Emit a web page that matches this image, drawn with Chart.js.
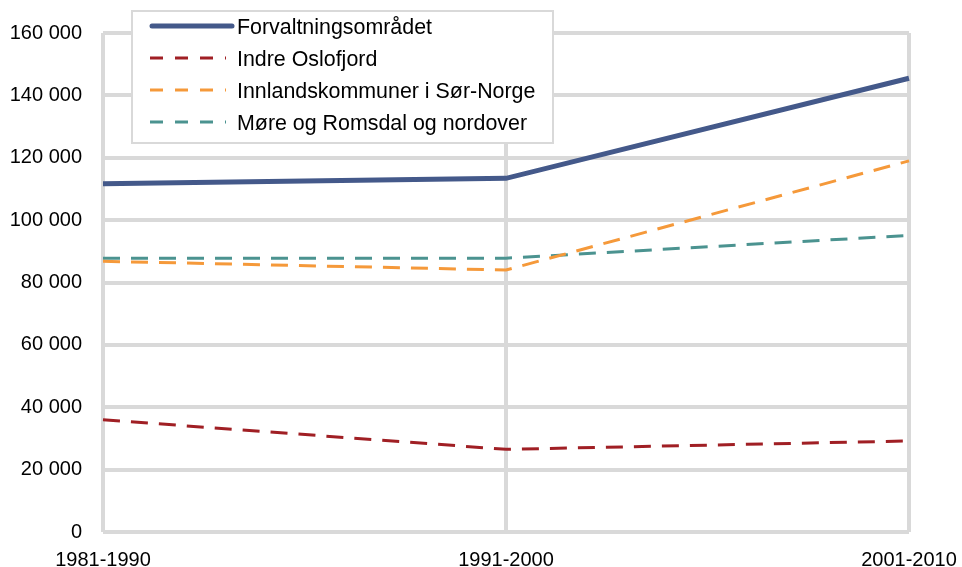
<!DOCTYPE html>
<html>
<head>
<meta charset="utf-8">
<script src="https://cdn.jsdelivr.net/npm/chart.js@4.4.1/dist/chart.umd.min.js"></script>
<style>
  html, body { margin: 0; padding: 0; background: #fff; }
  #wrap { width: 962px; height: 567px; position: relative; }
</style>
</head>
<body>
<div id="wrap"><canvas id="chart-canvas" width="962" height="567"></canvas></div>
<script>
const periods = ['1981-1990', '1991-2000', '2001-2010'];
const forvaltning = [111700, 113400, 145500];
const indreOslofjord = [36000, 26500, 29200];
const innland = [86800, 84000, 119000];
const moreRomsdal = [87800, 87800, 95100];
const yTicks = [0, 20000, 40000, 60000, 80000, 100000, 120000, 140000, 160000];

const dash = [17, 11];

// legend drawn inside the plot, like the original
const boxLegend = {
  id: 'boxLegend',
  afterDraw(chart) {
    const ctx = chart.ctx;
    const x = 132, y = 11, w = 421, h = 132;
    ctx.save();
    ctx.fillStyle = '#fff';
    ctx.fillRect(x, y, w, h);
    ctx.strokeStyle = '#d9d9d9';
    ctx.lineWidth = 2;
    ctx.strokeRect(x, y, w, h);
    chart.data.datasets.forEach((ds, i) => {
      const ly = 26 + i * 32;
      ctx.beginPath();
      ctx.strokeStyle = ds.borderColor;
      ctx.lineWidth = ds.borderWidth;
      ctx.lineCap = i === 0 ? 'round' : 'butt';
      ctx.setLineDash(i === 0 ? [] : [13, 12]);
      ctx.moveTo(i === 0 ? 152 : 150, ly);
      ctx.lineTo(i === 0 ? 232 : 226, ly);
      ctx.stroke();
      ctx.setLineDash([]);
      ctx.fillStyle = '#000';
      ctx.font = '21.4px "Liberation Sans", Arial, sans-serif';
      ctx.textBaseline = 'middle';
      ctx.fillText(ds.label, 237, ly + 2);
    });
    ctx.restore();
  }
};

new Chart(document.getElementById('chart-canvas').getContext('2d'), {
  type: 'line',
  data: {
    labels: periods,
    datasets: [
      { label: 'Forvaltningsområdet', data: forvaltning, borderColor: '#44598a', borderWidth: 5, pointRadius: 0 },
      { label: 'Indre Oslofjord', data: indreOslofjord, borderColor: '#a01f24', borderWidth: 3, borderDash: dash, pointRadius: 0 },
      { label: 'Innlandskommuner i Sør-Norge', data: innland, borderColor: '#f5993a', borderWidth: 3, borderDash: dash, pointRadius: 0 },
      { label: 'Møre og Romsdal og nordover', data: moreRomsdal, borderColor: '#4b9390', borderWidth: 3, borderDash: dash, pointRadius: 0 }
    ]
  },
  options: {
    responsive: false,
    animation: false,
    tension: 0,
    layout: { padding: { top: 26, right: 53, left: 0, bottom: 0 } },
    plugins: { legend: { display: false }, tooltip: { enabled: false } },
    scales: {
      x: {
        offset: false,
        grid: { color: '#d9d9d9', lineWidth: 4, drawTicks: false },
        border: { display: false },
        ticks: { color: '#000', font: { family: '"Liberation Sans", Arial', size: 20 }, padding: 16, maxRotation: 0 },
        afterFit(scale) {
          scale.height = 35;
          scale.paddingLeft = 0;
          scale.paddingRight = 0;
        }
      },
      y: {
        min: 0, max: 160000,
        afterBuildTicks(scale) { scale.ticks = yTicks.map(v => ({ value: v })); },
        grid: { color: '#d9d9d9', lineWidth: 4, drawTicks: false },
        border: { display: false },
        ticks: {
          color: '#000', font: { family: '"Liberation Sans", Arial', size: 20 }, padding: 21,
          callback: v => v === 0 ? '0' : String(v).replace(/\B(?=(\d{3})+(?!\d))/g, ' ')
        },
        afterFit(scale) { scale.width = 103; }
      }
    }
  },
  plugins: [boxLegend]
});
</script>
</body>
</html>
